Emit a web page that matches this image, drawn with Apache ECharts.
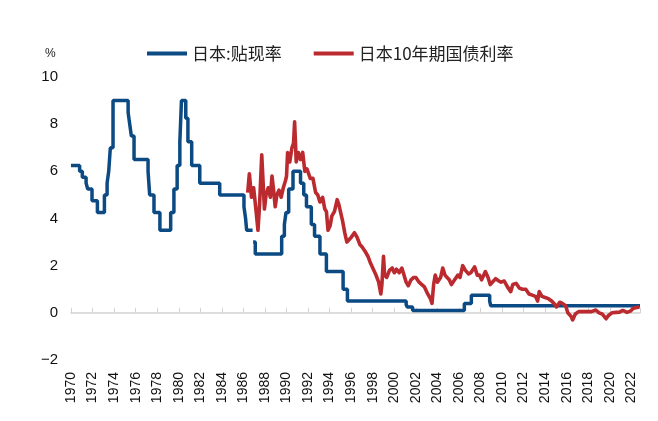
<!DOCTYPE html>
<html>
<head>
<meta charset="utf-8">
<script src="https://cdn.jsdelivr.net/npm/echarts@6/dist/echarts.min.js"></script>
<style>
    html, body {margin: 0; padding: 0; background: #fff;}
    #main {width: 658px; height: 421px;}
</style>
</head>
<body>
<div id="main"></div>
<script>
// 日本:贴现率 (调整时点, 利率)
var discountDates = [1970.0, 1970.8, 1971.05, 1971.4, 1971.55, 1971.95, 1972.45, 1973.1, 1973.35, 1973.5, 1973.65, 1973.9,
    1975.3, 1975.45, 1975.6, 1975.85, 1977.15, 1977.3, 1977.7, 1978.25, 1979.25, 1979.55, 1979.85, 1980.1, 1980.25,
    1980.65, 1980.85, 1981.2, 1981.95, 1983.8, 1986.05, 1986.2, 1986.3, 1986.85, 1986.9, 1987.1,
    1989.55, 1989.8, 1989.95, 1990.2, 1990.6, 1991.3, 1991.6, 1991.85, 1992.0, 1992.3, 1992.6, 1993.1, 1993.7,
    1995.25, 1995.65, 2001.1, 2001.2, 2001.7, 2006.5, 2007.15, 2008.85, 2008.95, 2022.8];
var discountRates = [6.25, 6.0, 5.75, 5.5, 5.25, 4.75, 4.25, 5.0, 5.5, 6.0, 7.0, 9.0,
    8.5, 8.0, 7.5, 6.5, 6.0, 5.0, 4.25, 3.5, 4.25, 5.25, 6.25, 7.25, 9.0,
    8.25, 7.25, 6.25, 5.5, 5.0, 4.5, 4.0, 3.5, '-', 3.0, 2.5,
    3.25, 3.75, 4.25, 5.25, 6.0, 5.5, 5.0, 4.5, 4.5, 3.75, 3.25, 2.5, 1.75,
    1.0, 0.5, 0.35, 0.25, 0.1, 0.4, 0.75, 0.5, 0.3, 0.3];

// 日本10年期国债利率
var jgbDates = [1986.4, 1986.55, 1986.75, 1986.95, 1987.2, 1987.35, 1987.5, 1987.7, 1987.85, 1987.95,
    1988.1, 1988.3, 1988.5, 1988.65, 1988.8, 1988.95, 1989.1, 1989.3, 1989.5, 1989.7, 1989.9,
    1990.0, 1990.1, 1990.3, 1990.5, 1990.65, 1990.75,
    1990.9, 1991.1, 1991.3, 1991.5, 1991.7, 1991.9, 1992.2, 1992.45, 1992.7, 1992.9,
    1993.1, 1993.35, 1993.55, 1993.7, 1993.85, 1994.05, 1994.2, 1994.45, 1994.7, 1994.85,
    1995.0, 1995.2, 1995.4, 1995.6, 1995.8, 1996.0, 1996.3, 1996.55, 1996.8,
    1997.0, 1997.3, 1997.55, 1997.8, 1998.0, 1998.3, 1998.55, 1998.75, 1998.85, 1999.0,
    1999.1, 1999.3, 1999.55, 1999.8, 2000.0, 2000.2, 2000.45, 2000.7, 2000.9, 2001.1, 2001.3, 2001.55, 2001.8,
    2002.0, 2002.3, 2002.55, 2002.8, 2003.1, 2003.35, 2003.5, 2003.65, 2003.8,
    2004.0, 2004.3, 2004.5, 2004.7, 2004.9, 2005.1, 2005.3, 2005.6, 2005.9,
    2006.1, 2006.35, 2006.6, 2006.9, 2007.1, 2007.45, 2007.7, 2007.9, 2008.1, 2008.45, 2008.7, 2008.9,
    2009.1, 2009.4, 2009.7, 2009.9, 2010.2, 2010.5, 2010.8, 2011.0, 2011.3, 2011.6, 2011.9,
    2012.2, 2012.5, 2012.8, 2013.1, 2013.3, 2013.45, 2013.7, 2014.0, 2014.3, 2014.6, 2014.9,
    2015.05, 2015.35, 2015.6, 2015.9, 2016.1, 2016.4, 2016.55, 2016.8, 2017.1, 2017.5, 2017.9,
    2018.3, 2018.7, 2019.0, 2019.3, 2019.65, 2019.9, 2020.2, 2020.6, 2020.9, 2021.2, 2021.6, 2021.9,
    2022.2, 2022.5, 2022.75];
var jgbYields = [5.1, 5.9, 4.9, 5.3, 4.2, 3.5, 4.6, 6.7, 5.3, 4.4,
    5.0, 5.3, 4.9, 5.8, 5.2, 4.5, 5.0, 5.2, 4.9, 5.3, 5.6,
    5.8, 6.8, 6.4, 7.0, 7.2, 8.1,
    6.4, 6.8, 6.5, 6.8, 6.0, 6.1, 5.7, 5.7, 5.1, 5.0,
    4.7, 4.9, 4.4, 4.3, 3.5, 3.7, 4.1, 4.3, 4.8, 4.6,
    4.6, 3.9, 3.4, 3.0, 3.1, 3.2, 3.4, 3.2, 2.9,
    2.8, 2.6, 2.4, 2.1, 1.9, 1.6, 1.3, 0.8, 1.2, 2.4,
    1.6, 1.5, 1.8, 1.9, 1.7, 1.85, 1.7, 1.9, 1.6, 1.3, 1.15, 1.4, 1.5,
    1.5, 1.3, 1.2, 1.1, 0.8, 0.6, 0.4, 1.2, 1.6,
    1.3, 1.5, 1.9, 1.6, 1.5, 1.4, 1.2, 1.4, 1.6,
    1.5, 2.0, 1.8, 1.65, 1.7, 1.95, 1.6, 1.6, 1.4, 1.75, 1.5, 1.2,
    1.3, 1.45, 1.35, 1.3, 1.35, 1.1, 0.9, 1.2, 1.25, 1.05, 1.0,
    1.0, 0.8, 0.75, 0.7, 0.5, 0.9, 0.7, 0.65, 0.6, 0.5, 0.35,
    0.25, 0.45, 0.4, 0.3, 0.0, -0.15, -0.3, -0.05, 0.05, 0.05, 0.05,
    0.05, 0.12, 0.0, -0.05, -0.25, -0.1, 0.0, 0.02, 0.03, 0.1, 0.02, 0.07,
    0.2, 0.23, 0.25];

var seriesNames = ['日本:贴现率', '日本10年期国债利率'];
var seriesColors = ['#0c4a84', '#bb2a2f'];

function zip(xs, ys) {
    var out = [];
    for (var i = 0; i < xs.length; i++) {
        out.push([xs[i], ys[i]]);
    }
    return out;
}

var myChart = echarts.init(document.getElementById('main'), null, {renderer: 'canvas'});
var option = {
    animation: false,
    backgroundColor: '#fff',
    title: {
        text: '%',
        left: 40,
        top: 43,
        textStyle: {fontSize: 12, fontWeight: 'normal', color: '#222', fontFamily: 'Liberation Sans'}
    },
    legend: {
        left: 142,
        top: 40,
        itemWidth: 40,
        itemHeight: 4,
        itemGap: 32,
        icon: 'rect',
        data: seriesNames,
        textStyle: {fontSize: 17, color: '#222', fontFamily: 'Noto Sans CJK SC'}
    },
    grid: {left: 71, right: 18, top: 77, bottom: 61, outerBoundsMode: 'none', containLabel: false},
    xAxis: {
        type: 'value',
        min: 1970,
        max: 2022.8,
        interval: 2,
        axisLine: {onZero: true, lineStyle: {color: '#d2d2d2', width: 1.5}},
        axisTick: {show: true, inside: true, length: 5, lineStyle: {color: '#d2d2d2'}},
        splitLine: {show: false},
        axisLabel: {
            rotate: 90,
            margin: 12,
            fontSize: 14,
            color: '#111',
            fontFamily: 'Liberation Sans',
            formatter: function (v) {
                return (v % 2 === 0) ? String(v) : '';
            }
        }
    },
    yAxis: {
        type: 'value',
        min: -2,
        max: 10,
        interval: 2,
        axisLine: {show: false},
        axisTick: {show: false},
        splitLine: {show: false},
        axisLabel: {
            margin: 13,
            fontSize: 15,
            color: '#111',
            fontFamily: 'Liberation Sans',
            formatter: function (v) {
                return String(v).replace('-', '\u2212');
            }
        }
    },
    series: [{
        name: seriesNames[0],
        type: 'line',
        step: 'end',
        showSymbol: false,
        connectNulls: false,
        data: zip(discountDates, discountRates),
        lineStyle: {color: seriesColors[0], width: 3.5},
        itemStyle: {color: seriesColors[0]}
    }, {
        name: seriesNames[1],
        type: 'line',
        showSymbol: false,
        data: zip(jgbDates, jgbYields),
        lineStyle: {color: seriesColors[1], width: 3.6, join: 'round'},
        itemStyle: {color: seriesColors[1]}
    }]
};
myChart.setOption(option);
</script>
</body>
</html>
